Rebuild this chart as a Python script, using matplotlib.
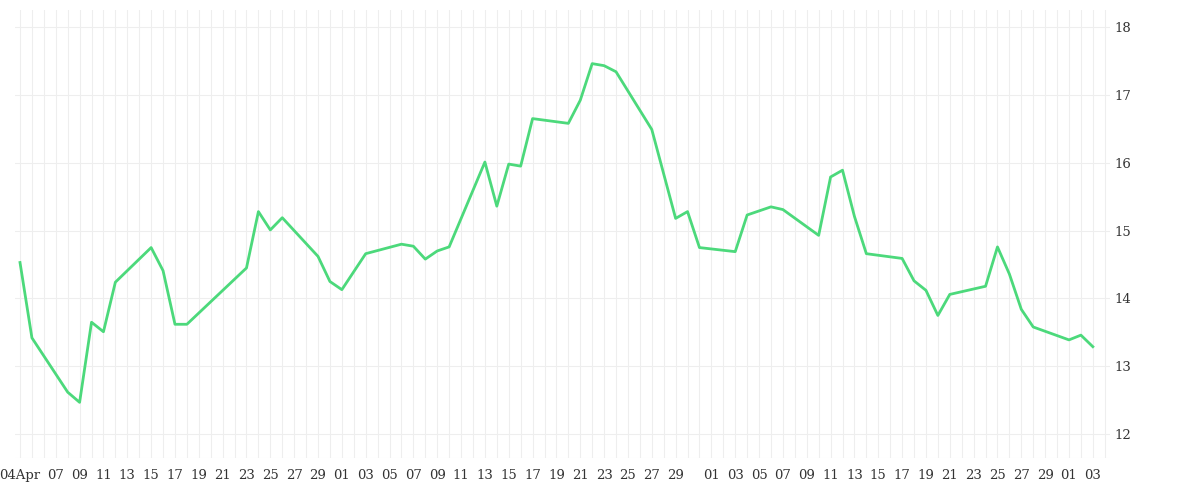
import matplotlib
matplotlib.use("Agg")
import matplotlib.pyplot as plt
import numpy as np
import datetime as dt

start = dt.date(2022, 4, 4)
day_offsets = [0,1,4,5,6,7,8,11,12,13,14,19,20,21,22,25,26,27,29,32,33,34,35,36,39,40,41,42,43,
               46,47,48,49,50,53,55,56,57,60,61,63,64,67,68,69,70,71,74,75,76,77,78,81,82,83,84,85,88,89,90]
values = [14.53,13.42,12.62,12.47,13.65,13.51,14.24,14.75,14.41,13.62,13.62,14.45,15.28,15.01,15.19,
          14.62,14.25,14.13,14.66,14.80,14.77,14.58,14.70,14.76,16.01,15.36,15.98,15.95,16.65,
          16.58,16.92,17.46,17.43,17.34,16.49,15.18,15.28,14.75,14.69,15.23,15.35,15.31,14.93,15.79,
          15.89,15.21,14.66,14.59,14.26,14.12,13.75,14.06,14.18,14.76,14.36,13.84,13.58,13.39,13.46,13.29]
y_ticks = [12,13,14,15,16,17,18]

fig = plt.figure(figsize=(12,5), dpi=100)
ax = fig.add_axes([15/1200, 42/500, 1095/1200, 448/500])
ax.plot(day_offsets, values, color="#4cd97b", lw=2)

ax.set_xlim(-0.42, 91.44)
ax.set_ylim(11.65, 18.25)
ndays = 92
dates = [start + dt.timedelta(days=i) for i in range(ndays)]
tpos, tlab = [], []
for i, d in enumerate(dates):
    if i > 90:
        break
    if i == 0:
        tpos.append(i); tlab.append("04Apr")
    elif i >= 3 and d.day % 2 == 1 and d.day != 31:
        tpos.append(i); tlab.append(f"{d.day:02d}")
ax.set_xticks(range(ndays), minor=True)
ax.set_xticks(tpos)
ax.set_xticklabels(tlab)
ax.grid(True, which="both", axis="x", color="#eeeeee", lw=0.8)
ax.set_yticks(y_ticks)
ax.grid(True, which="major", axis="y", color="#eeeeee", lw=0.8)
ax.yaxis.tick_right()
ax.tick_params(axis="both", which="both", length=0, labelsize=9.5, colors="#333333")
ax.tick_params(axis="x", pad=8)
for lab in ax.get_xticklabels() + ax.get_yticklabels():
    lab.set_family("DejaVu Serif")
for s in ax.spines.values():
    s.set_visible(False)
ax.axhline(11.65, color="#eeeeee", lw=0.8)
fig.savefig("out.png", dpi=100)
